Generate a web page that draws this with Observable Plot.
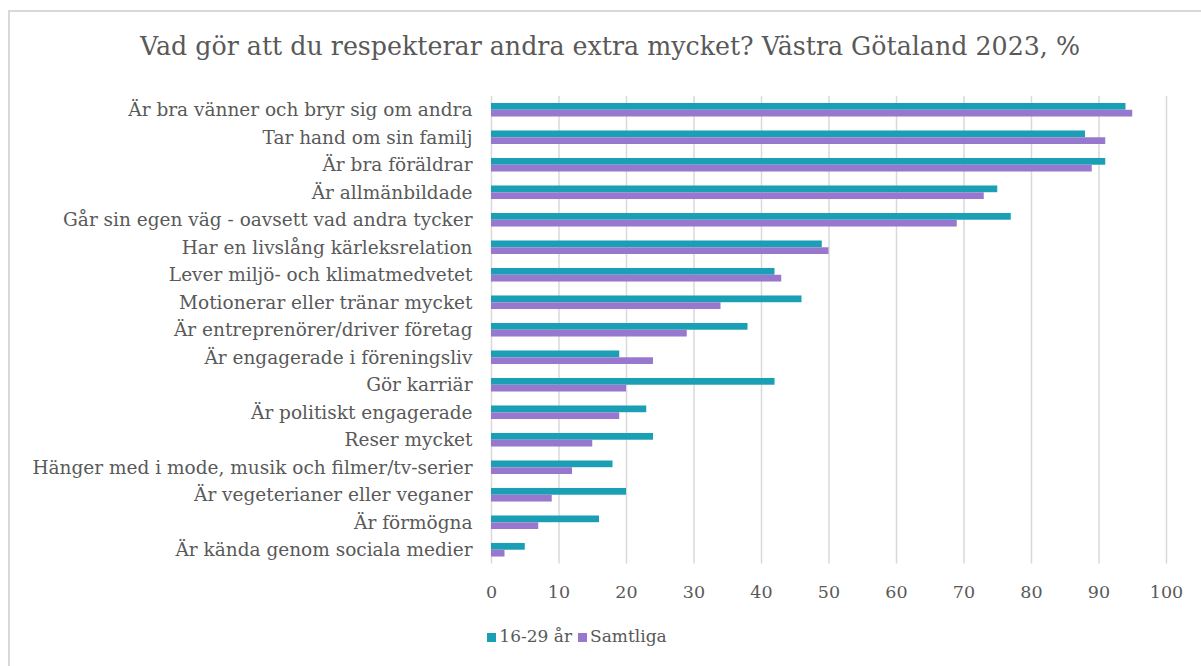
<!DOCTYPE html>
<html>
<head>
<meta charset="utf-8">
<script src="https://cdn.jsdelivr.net/npm/d3@7"></script>
<script src="https://cdn.jsdelivr.net/npm/@observablehq/plot@0.6"></script>
<style>
  html, body { margin: 0; padding: 0; background: #fff; overflow: hidden; }
  #page { position: relative; width: 1201px; height: 666px; font-family: "DejaVu Serif", serif; color: #595959; }
  #frame { position: absolute; left: 8px; top: 10px; width: 1300px; height: 700px; border: 2px solid #d9d9d9; box-sizing: border-box; }
  #title { position: absolute; left: 0; width: 1220px; top: 32px; text-align: center; font-size: 25.3px; color: #595959; white-space: nowrap; }
  #chart { position: absolute; left: 0; top: 0; line-height: 0; }
  #legend { position: absolute; top: 626px; left: 0; width: 1154px; text-align: center; font-size: 17px; white-space: nowrap; }
  .item { display: inline-block; margin: 0 3px; }
  .sw { display: inline-block; width: 9px; height: 9px; margin-right: 3px; vertical-align: 0px; }
</style>
</head>
<body>
<div id="page">
  <div id="frame"></div>
  <div id="title">Vad gör att du respekterar andra extra mycket? Västra Götaland 2023, %</div>
  <div id="chart"></div>
  <div id="legend"></div>
</div>
<script>
const categories = [
  "Är bra vänner och bryr sig om andra",
  "Tar hand om sin familj",
  "Är bra föräldrar",
  "Är allmänbildade",
  "Går sin egen väg - oavsett vad andra tycker",
  "Har en livslång kärleksrelation",
  "Lever miljö- och klimatmedvetet",
  "Motionerar eller tränar mycket",
  "Är entreprenörer/driver företag",
  "Är engagerade i föreningsliv",
  "Gör karriär",
  "Är politiskt engagerade",
  "Reser mycket",
  "Hänger med i mode, musik och filmer/tv-serier",
  "Är vegeterianer eller veganer",
  "Är förmögna",
  "Är kända genom sociala medier"
];
const young = [94, 88, 91, 75, 77, 49, 42, 46, 38, 19, 42, 23, 24, 18, 20, 16, 5];
const all   = [95, 91, 89, 73, 69, 50, 43, 34, 29, 24, 20, 19, 15, 12, 9, 7, 2];
const seriesNames = ["16-29 år", "Samtliga"];
const seriesColors = ["#1b9fb4", "#9878cf"];
const xTicks = [0, 10, 20, 30, 40, 50, 60, 70, 80, 90, 100];

const dataYoung = categories.map((c, i) => ({cat: c, value: young[i]}));
const dataAll = categories.map((c, i) => ({cat: c, value: all[i]}));

const chart = Plot.plot({
  width: 1201,
  height: 620,
  marginLeft: 491,
  marginRight: 35,
  marginTop: 96,
  marginBottom: 56.5,
  style: {fontFamily: "DejaVu Serif, serif", fontSize: "18px", color: "#595959", background: "transparent"},
  x: {domain: [0, 100], ticks: xTicks, label: null, axis: null},
  y: {type: "band", domain: categories, range: [96, 563.5], round: false, paddingInner: 0.755, paddingOuter: 0.3775, align: 0.5, label: null, axis: null},
  marks: [
    Plot.gridX(xTicks, {stroke: "#d9d9d9", strokeOpacity: 1, strokeWidth: 1.5}),
    Plot.barX(dataYoung, {y: "cat", x: "value", fill: seriesColors[0], dy: -3.4}),
    Plot.barX(dataAll, {y: "cat", x: "value", fill: seriesColors[1], dy: 3.4}),
    Plot.axisX(xTicks, {tickSize: 0, tickPadding: 22, fill: "#595959", fontSize: 17.5, label: null, tickFormat: d => String(d)}),
    Plot.axisY(categories, {tickSize: 0, tickPadding: 19, fill: "#595959", fontSize: 18.5, label: null})
  ]
});
document.getElementById("chart").appendChild(chart);

const legend = document.getElementById("legend");
seriesNames.forEach((n, i) => {
  const it = document.createElement("span");
  it.className = "item";
  const sw = document.createElement("span");
  sw.className = "sw";
  sw.style.background = seriesColors[i];
  it.appendChild(sw);
  it.appendChild(document.createTextNode(n));
  legend.appendChild(it);
});
</script>
</body>
</html>
